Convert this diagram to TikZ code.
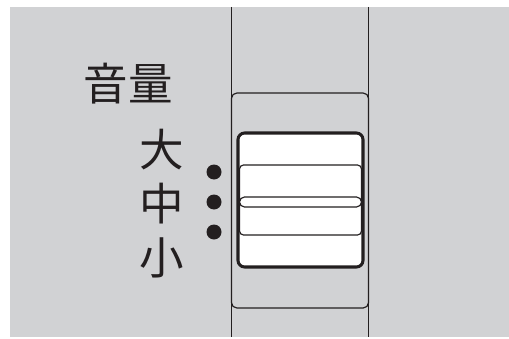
\documentclass[tikz,border=0pt]{standalone}
\usepackage{fontspec}
\newfontfamily\jpfont{Noto Sans CJK JP}
\definecolor{panelgray}{RGB}{209,210,212}
\definecolor{ink}{RGB}{35,31,32}

\begin{document}
\begin{tikzpicture}[x=0.03cm, y=-0.03cm]
    \tikzstyle{railline} = [draw=ink, line width=1pt]
    \tikzstyle{sliderbox} = [draw=ink, line width=2.6pt, fill=white, rounded corners=0.2cm]
    \tikzstyle{grooveline} = [draw=ink, line width=1pt, rounded corners=0.12cm]
    \tikzstyle{marktext} = [font=\jpfont\fontsize{38}{38}\selectfont, text=ink, inner sep=0pt]
    \tikzstyle{markdot} = [circle, fill=ink, minimum size=0.45cm, inner sep=0pt]

    \useasboundingbox (0,0) rectangle (509,338);
    \fill[panelgray] (10,7) rectangle (509,337);

    % rails and housing
    \draw [railline] (231.5,7) -- (231.5,337);
    \draw [railline] (368.5,7) -- (368.5,337);
    \draw [railline, rounded corners=0.16cm] (231.5,93) rectangle (368.5,308);

    % slider knob
    \draw [sliderbox] (238,133) rectangle (363,267);
    \draw [grooveline] (239.5,165) rectangle (361.5,235);
    \draw [grooveline, fill=white, rounded corners=0.15cm] (239.5,197) rectangle (361.5,207);

    % labels
    \node (volume) [marktext] at (128,84) {音量};
    \node (high) [marktext] at (162,150) {大};
    \node (mid) [marktext] at (162,204) {中};
    \node (low) [marktext] at (162,258) {小};

    \node (dothigh) [markdot] at (214,172) {};
    \node (dotmid) [markdot] at (214,202) {};
    \node (dotlow) [markdot] at (214,232) {};
\end{tikzpicture}
\end{document}
